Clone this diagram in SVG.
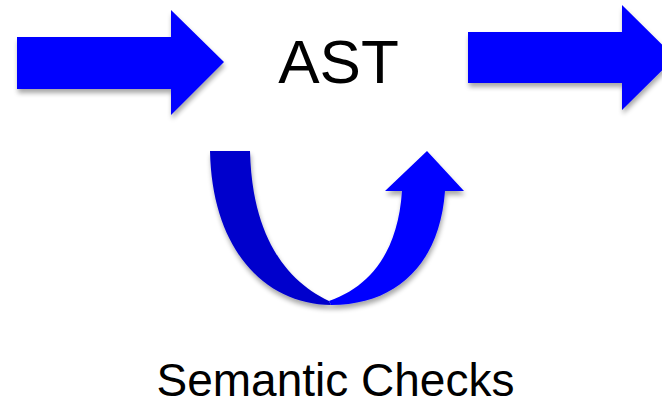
<svg xmlns="http://www.w3.org/2000/svg" width="662" height="406" viewBox="0 0 662 406">
  <defs>
    <filter id="shadow" x="-10%" y="-10%" width="130%" height="140%">
      <feGaussianBlur in="SourceAlpha" stdDeviation="2.5"/>
      <feOffset dx="1" dy="4" result="b"/>
      <feComponentTransfer><feFuncA type="linear" slope="0.35"/></feComponentTransfer>
      <feMerge><feMergeNode/><feMergeNode in="SourceGraphic"/></feMerge>
    </filter>
  </defs>
  <style>
    .label { font-family: "Liberation Sans", Arial, sans-serif; fill: #000; text-anchor: middle; }
    .blue { fill: #0000ff; }
    .dark { fill: #0000cc; }
  </style>

  <g id="ast">
    <text class="label" x="338.5" y="83" font-size="62">AST</text>
  </g>

  <g id="semantic-checks">
    <text class="label" x="335.5" y="396" font-size="46">Semantic Checks</text>
  </g>

  <g id="connectors" filter="url(#shadow)">
    <!-- incoming arrow -->
    <polygon class="blue" points="17,37 171,37 171,10 224,62 171,115 171,89 17,89"/>
    <!-- outgoing arrow -->
    <polygon class="blue" points="468,32 622,32 622,5 675,57.5 622,110 622,83 468,83"/>
    <!-- U-turn loop: descending band -->
    <path class="dark" d="M210,151 L250,151 C252,235 285,280 329,301 L331,305 C265,304 212,250 210,151 Z"/>
    <!-- U-turn loop: rising band with head -->
    <path class="blue" d="M329,301 C372,286 398,250 402,191 L385,191 L427,151 L464,191 L445,191 C440,262 398,305 331,305 Z"/>
  </g>
</svg>
